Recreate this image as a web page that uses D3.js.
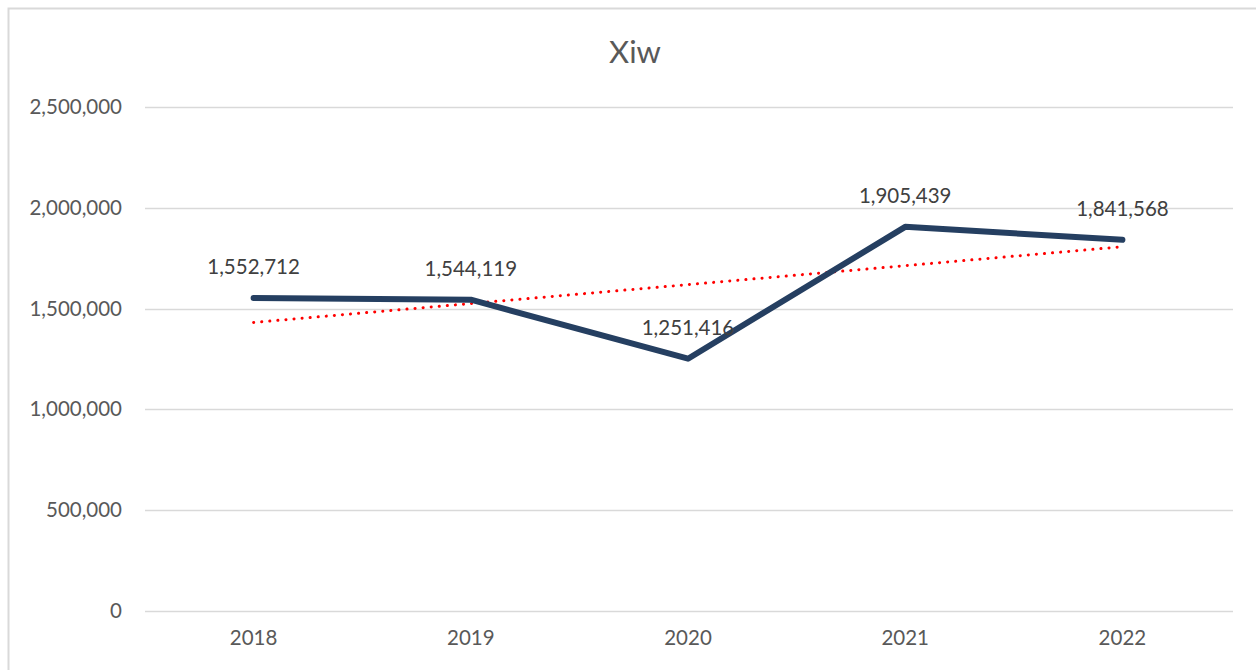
<!DOCTYPE html>
<html>
<head>
<meta charset="utf-8">
<script src="https://cdn.jsdelivr.net/npm/d3@7"></script>
<style>
  html, body { margin: 0; padding: 0; background: #fff; }
  svg { display: block; font-family: Lato, "Open Sans", sans-serif; }
</style>
</head>
<body>
<div id="chart"></div>
<script>
// Chart data
const years = ['2018', '2019', '2020', '2021', '2022'];
const values = [1552712, 1544119, 1251416, 1905439, 1841568];
const yTicks = [0, 500000, 1000000, 1500000, 2000000, 2500000];
const title = 'Xiw';

const width = 1256;
const height = 670;
const margin = { top: 107, right: 25, bottom: 59, left: 145 };
const labelSize = 20.5;

const svg = d3.select('#chart').append('svg')
  .attr('width', width)
  .attr('height', height);

// Chart frame (only top and left edges fall inside the picture)
svg.append('path')
  .attr('d', `M8.5,${height} V8.5 H${width}`)
  .attr('fill', 'none')
  .attr('stroke', '#d9d9d9')
  .attr('stroke-width', 2);

const x = d3.scaleBand()
  .domain(years)
  .range([margin.left, width - margin.right]);

const y = d3.scaleLinear()
  .domain([0, 2500000])
  .range([height - margin.bottom, margin.top]);

const fmt = d3.format(',');

// Gridlines
svg.append('g')
  .selectAll('line')
  .data(yTicks)
  .join('line')
  .attr('x1', margin.left)
  .attr('x2', width - margin.right + 2)
  .attr('y1', d => Math.round(y(d)) + 0.5)
  .attr('y2', d => Math.round(y(d)) + 0.5)
  .attr('stroke', '#d9d9d9')
  .attr('stroke-width', 1.5);

// Y axis labels
const yAxis = d3.axisLeft(y)
  .tickValues(yTicks)
  .tickFormat(fmt)
  .tickSize(0)
  .tickPadding(23);
svg.append('g')
  .attr('transform', `translate(${margin.left},0)`)
  .call(yAxis)
  .call(g => g.select('.domain').remove())
  .selectAll('text')
  .attr('font-size', labelSize)
  .attr('font-family', 'Lato, "Open Sans", sans-serif')
  .attr('fill', '#595959');

// X axis labels
const xAxis = d3.axisBottom(x)
  .tickSize(0)
  .tickPadding(19);
svg.append('g')
  .attr('transform', `translate(0,${height - margin.bottom})`)
  .call(xAxis)
  .call(g => g.select('.domain').remove())
  .selectAll('text')
  .attr('font-size', labelSize)
  .attr('font-family', 'Lato, "Open Sans", sans-serif')
  .attr('fill', '#595959');

// Title
svg.append('text')
  .attr('x', 635)
  .attr('y', 63)
  .attr('text-anchor', 'middle')
  .attr('font-size', 31)
  .attr('fill', '#595959')
  .text(title);

const cx = d => x(d) + x.bandwidth() / 2;

// Linear trendline (least squares on category index)
const n = values.length;
const meanX = d3.mean(values, (v, i) => i);
const meanY = d3.mean(values);
const slope = d3.sum(values, (v, i) => (i - meanX) * (v - meanY)) /
  d3.sum(values, (v, i) => (i - meanX) * (i - meanX));
const intercept = meanY - slope * meanX;

svg.append('line')
  .attr('x1', cx(years[0]))
  .attr('x2', cx(years[n - 1]))
  .attr('y1', y(intercept))
  .attr('y2', y(intercept + slope * (n - 1)))
  .attr('stroke', '#ff0000')
  .attr('stroke-width', 3)
  .attr('stroke-linecap', 'round')
  .attr('stroke-dasharray', '0.1 8');

// Main series line
const line = d3.line()
  .x((d, i) => cx(years[i]))
  .y(d => y(d));

svg.append('path')
  .datum(values)
  .attr('d', line)
  .attr('fill', 'none')
  .attr('stroke', '#253f61')
  .attr('stroke-width', 6)
  .attr('stroke-linecap', 'round')
  .attr('stroke-linejoin', 'round');

// Data labels
svg.append('g')
  .selectAll('text')
  .data(values)
  .join('text')
  .attr('x', (d, i) => cx(years[i]))
  .attr('y', d => y(d) - 24)
  .attr('text-anchor', 'middle')
  .attr('font-size', labelSize)
  .attr('fill', '#404040')
  .text(d => fmt(d));
</script>
</body>
</html>
